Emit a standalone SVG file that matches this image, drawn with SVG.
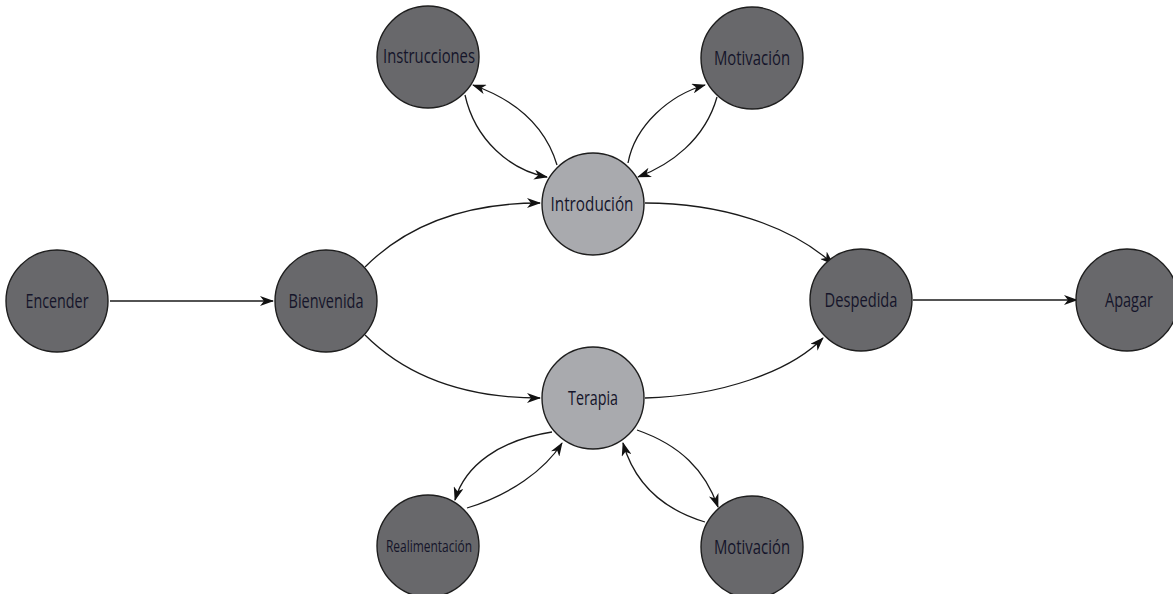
<svg xmlns="http://www.w3.org/2000/svg" width="1173" height="594" viewBox="0 0 1173 594">
  <style>
    .dark { fill: #68686b; stroke: #1e1e1e; stroke-width: 1.4; }
    .light { fill: #a9aaae; stroke: #1e1e1e; stroke-width: 1.4; }
    .lbl { font-family: "Open Sans", "Liberation Sans", sans-serif; font-size: 20px; fill: #15152a; text-anchor: middle; }
    .sm { font-size: 17px; }
    .edge { fill: none; stroke: #1a1a1a; stroke-width: 1.3; marker-end: url(#arrow); }
  </style>
  <defs>
    <marker id="arrow" viewBox="0 0 14 10" refX="13" refY="5" markerWidth="14" markerHeight="10" markerUnits="userSpaceOnUse" orient="auto">
      <path d="M0,0 L14,5 L0,10 L4,5 Z" fill="#111"/>
    </marker>
  </defs>
  <rect width="1173" height="594" fill="#ffffff"/>

  <g id="connectors">
    <path class="edge" d="M110,301 L273,301"/>
    <path class="edge" d="M365,267 C410,222 470,203 540,203"/>
    <path class="edge" d="M365,335 C410,380 470,398 540,398"/>
    <path class="edge" d="M645,203 C720,203 790,225 833,264"/>
    <path class="edge" d="M645,398 C720,396 790,372 823,338"/>
    <path class="edge" d="M913,300 L1077,300"/>
    <path class="edge" d="M465,95 C475,140 510,170 547,177"/>
    <path class="edge" d="M557,165 C545,125 515,100 473,85"/>
    <path class="edge" d="M628,163 C635,125 670,95 705,85"/>
    <path class="edge" d="M717,97 C705,140 670,165 638,177"/>
    <path class="edge" d="M552,432 C500,440 465,465 455,500"/>
    <path class="edge" d="M467,508 C510,495 545,470 562,443"/>
    <path class="edge" d="M637,430 C680,445 705,470 718,507"/>
    <path class="edge" d="M705,522 C665,510 635,485 623,443"/>
  </g>

  <g id="encender">
    <circle class="dark" cx="57" cy="301" r="51"/>
    <text class="lbl" x="57" y="308" textLength="63" lengthAdjust="spacingAndGlyphs">Encender</text>
  </g>
  <g id="bienvenida">
    <circle class="dark" cx="326" cy="301" r="51"/>
    <text class="lbl" x="326" y="308" textLength="75" lengthAdjust="spacingAndGlyphs">Bienvenida</text>
  </g>
  <g id="introducion">
    <circle class="light" cx="593" cy="204" r="51"/>
    <text class="lbl" x="592" y="211" textLength="83" lengthAdjust="spacingAndGlyphs">Introdución</text>
  </g>
  <g id="terapia">
    <circle class="light" cx="593" cy="398" r="51"/>
    <text class="lbl" x="593" y="405" textLength="50" lengthAdjust="spacingAndGlyphs">Terapia</text>
  </g>
  <g id="instrucciones">
    <circle class="dark" cx="428" cy="57" r="51"/>
    <text class="lbl" x="429" y="63" textLength="92" lengthAdjust="spacingAndGlyphs">Instrucciones</text>
  </g>
  <g id="motivacion-intro">
    <circle class="dark" cx="752" cy="58" r="51"/>
    <text class="lbl" x="752" y="65" textLength="76" lengthAdjust="spacingAndGlyphs">Motivación</text>
  </g>
  <g id="realimentacion">
    <circle class="dark" cx="428" cy="546" r="51"/>
    <text class="lbl sm" x="429" y="552" textLength="86" lengthAdjust="spacingAndGlyphs">Realimentación</text>
  </g>
  <g id="motivacion-terapia">
    <circle class="dark" cx="752" cy="547" r="51"/>
    <text class="lbl" x="752" y="554" textLength="76" lengthAdjust="spacingAndGlyphs">Motivación</text>
  </g>
  <g id="despedida">
    <circle class="dark" cx="861" cy="300" r="51"/>
    <text class="lbl" x="861" y="307" textLength="73" lengthAdjust="spacingAndGlyphs">Despedida</text>
  </g>
  <g id="apagar">
    <circle class="dark" cx="1127" cy="300" r="51"/>
    <text class="lbl" x="1129" y="307" textLength="48" lengthAdjust="spacingAndGlyphs">Apagar</text>
  </g>
</svg>
